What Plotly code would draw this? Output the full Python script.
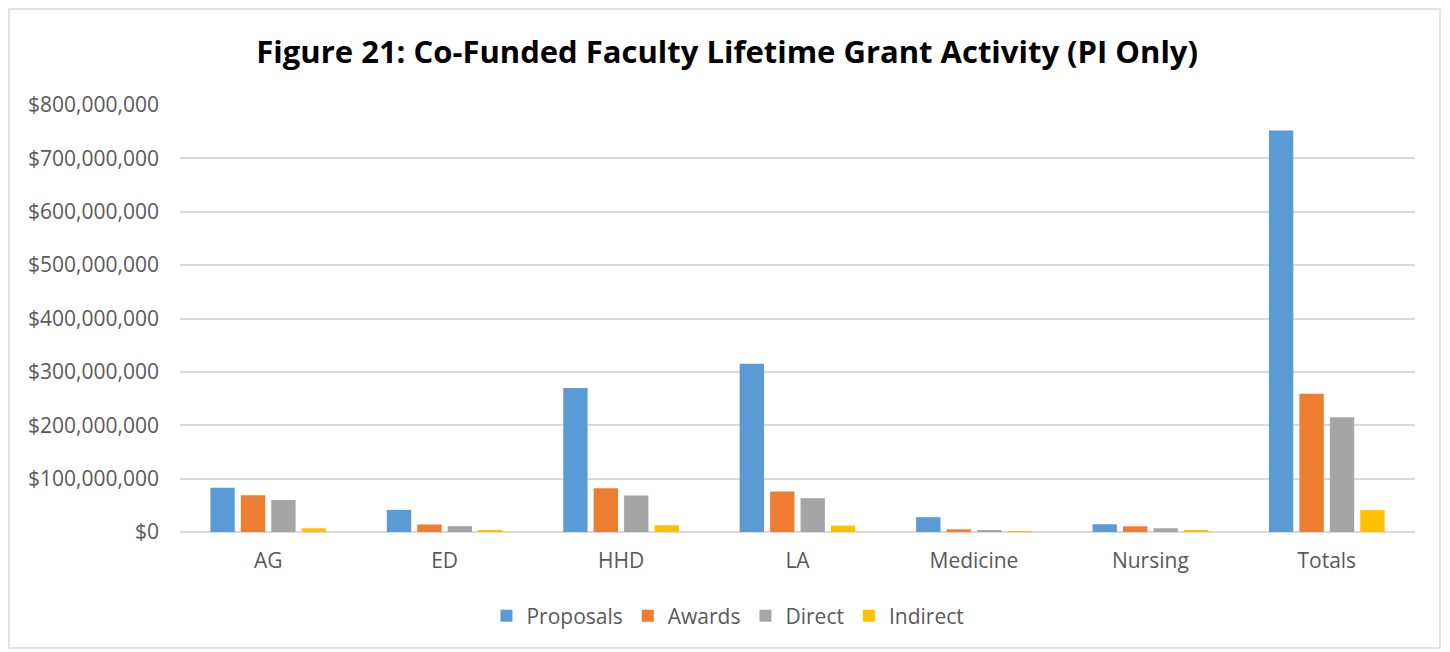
import plotly.graph_objects as go

# Lifetime grant activity, PI only (dollars)
categories = ["AG", "ED", "HHD", "LA", "Medicine", "Nursing", "Totals"]
proposals = [83_000_000, 41_500_000, 270_000_000, 315_000_000, 27_700_000, 14_500_000, 752_000_000]
awards = [69_000_000, 14_000_000, 82_000_000, 76_000_000, 5_000_000, 10_700_000, 259_000_000]
direct = [60_000_000, 11_000_000, 68_500_000, 63_500_000, 3_500_000, 7_000_000, 215_000_000]
indirect = [7_000_000, 3_000_000, 12_600_000, 12_000_000, 1_000_000, 3_000_000, 41_000_000]

y_ticks = list(range(0, 800_000_001, 100_000_000))
y_labels = ["$0"] + [f"${v:,}" for v in y_ticks[1:]]

series = [
    ("Proposals", proposals, "#5B9BD5"),
    ("Awards", awards, "#ED7D31"),
    ("Direct", direct, "#A5A5A5"),
    ("Indirect", indirect, "#FFC000"),
]

TEXT = "#595959"
GRID = "#D9D9D9"
FONT = "Open Sans, sans-serif"

fig = go.Figure()
for name, vals, color in series:
    fig.add_trace(go.Bar(x=categories, y=vals, name=name, marker_color=color,
                         marker_line_width=0))

fig.update_layout(
    width=1450, height=652,
    paper_bgcolor="white", plot_bgcolor="white",
    font=dict(family=FONT, color=TEXT, size=21),
    margin=dict(l=180, r=35, t=105, b=120),
    barmode="group", bargap=0.31, bargroupgap=0.2,
    title=dict(text="<b>Figure 21: Co-Funded Faculty Lifetime Grant Activity (PI Only)</b>",
               x=0.5015, xanchor="center", y=0.92, yanchor="middle",
               font=dict(family=FONT, size=31, color="black")),
    xaxis=dict(showgrid=False, zeroline=False, showline=False, ticks="",
               ticklabelstandoff=14, tickfont=dict(size=21, color=TEXT)),
    yaxis=dict(range=[0, 800_000_000], tickvals=y_ticks, ticktext=y_labels,
               showgrid=True, gridcolor=GRID, gridwidth=1.5, zeroline=True,
               zerolinecolor=GRID, zerolinewidth=1.5, showline=False, ticks="",
               ticklabelstandoff=20, tickfont=dict(size=21, color=TEXT)),
    legend=dict(orientation="h", x=0.4437, xanchor="center", y=-0.197, yanchor="middle",
                font=dict(size=21, color=TEXT), itemwidth=30, traceorder="normal"),
    shapes=[dict(type="rect", xref="paper", yref="paper",
                 x0=-0.1385, x1=1.0202, y0=-0.2717, y1=1.2248,
                 line=dict(color="#D9D9D9", width=1.5), layer="below")],
)

# drop the browser's default body margin so the figure sits at the window's corner
fig.write_html("out.html", config={"displayModeBar": False},
               post_script="document.body.style.margin='0';")
